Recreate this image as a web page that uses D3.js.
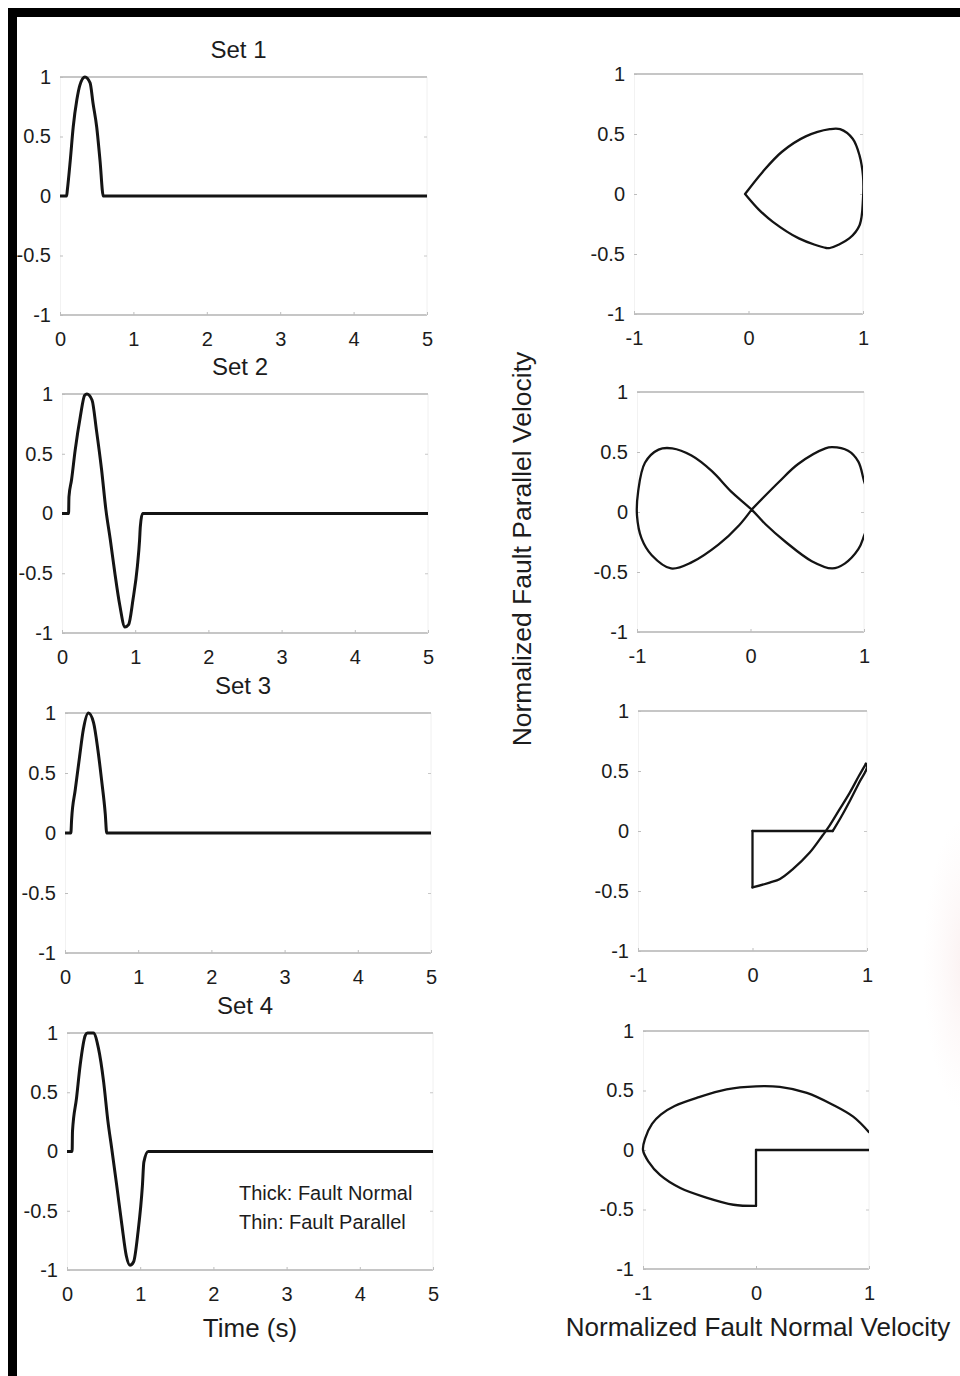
<!DOCTYPE html>
<html>
<head>
<meta charset="utf-8">
<script src="https://cdn.jsdelivr.net/npm/d3@7"></script>
<style>
  html, body { margin: 0; padding: 0; background: #fff; }
  svg { display: block; }
</style>
</head>
<body>
<svg id="fig" width="960" height="1376"></svg>
<script>
// ---------- data ----------
const setTitles = ["Set 1", "Set 2", "Set 3", "Set 4"];
const timeTicks = [0, 1, 2, 3, 4, 5];
const ampTicks = [-1, -0.5, 0, 0.5, 1];
const hodoXTicks = [-1, 0, 1];
const hodoYTicks = [-1, -0.5, 0, 0.5, 1];
const legendLines = ["Thick: Fault Normal", "Thin: Fault Parallel"];
const timeLabel = "Time (s)";
const hodoXLabel = "Normalized Fault Normal Velocity";
const hodoYLabel = "Normalized Fault Parallel Velocity";

// fault-normal velocity time histories (time in s, normalized velocity)
const set1Time   = [0, 0.09, 0.1, 0.14, 0.18, 0.23, 0.27, 0.34, 0.41, 0.45, 0.5, 0.545, 0.59, 5];
const set1Normal = [0, 0, 0.05, 0.30, 0.58, 0.81, 0.93, 1.0, 0.95, 0.78, 0.58, 0.30, 0, 0];

const set2Time   = [0, 0.09, 0.095, 0.13, 0.18, 0.25, 0.31, 0.34, 0.41, 0.47, 0.54, 0.6, 0.66, 0.72, 0.79, 0.86, 0.91, 0.97, 1.03, 1.06, 1.07, 1.1, 5];
const set2Normal = [0, 0, 0.14, 0.28, 0.53, 0.81, 0.99, 1.0, 0.95, 0.70, 0.37, 0.03, -0.22, -0.49, -0.77, -0.95, -0.93, -0.72, -0.44, -0.22, -0.11, 0, 0];

const set3Time   = [0, 0.08, 0.09, 0.14, 0.2, 0.25, 0.32, 0.39, 0.45, 0.5, 0.55, 0.57, 5];
const set3Normal = [0, 0, 0.11, 0.36, 0.64, 0.86, 1.0, 0.92, 0.69, 0.44, 0.16, 0, 0];

const set4Time   = [0, 0.07, 0.075, 0.13, 0.18, 0.25, 0.28, 0.36, 0.43, 0.5, 0.56, 0.61, 0.68, 0.75, 0.81, 0.86, 0.91, 0.97, 1.03, 1.05, 1.11, 5];
const set4Normal = [0, 0, 0.17, 0.45, 0.73, 0.98, 1.0, 1.0, 0.87, 0.59, 0.25, 0.03, -0.29, -0.62, -0.88, -0.96, -0.93, -0.68, -0.29, -0.09, 0, 0];

// hodographs: fault-normal (x) against fault-parallel (y)
const set1HodoNormal   = [-0.03, 0.12, 0.29, 0.50, 0.71, 0.80, 0.91, 0.97, 1.0, 1.0, 0.97, 0.88, 0.71, 0.68, 0.44, 0.21, 0.09, -0.03];
const set1HodoParallel = [0, 0.18, 0.35, 0.48, 0.54, 0.54, 0.46, 0.32, 0.15, -0.04, -0.26, -0.37, -0.45, -0.45, -0.37, -0.23, -0.13, 0];

const set2HodoNormal   = [0.01, 0.25, 0.42, 0.66, 0.72, 0.86, 0.95, 1.0, 1.05, 1.05, 1.0, 0.95, 0.83, 0.72, 0.54, 0.31, 0.13, 0.01,
                          -0.17, -0.34, -0.52, -0.69, -0.81, -0.93, -0.99, -1.0, -0.96, -0.87, -0.70, -0.52, -0.28, -0.10, 0.01];
const set2HodoParallel = [0.02, 0.25, 0.40, 0.53, 0.54, 0.51, 0.42, 0.26, 0.10, -0.05, -0.20, -0.31, -0.43, -0.47, -0.41, -0.25, -0.10, 0.02,
                          0.17, 0.34, 0.47, 0.53, 0.52, 0.41, 0.17, -0.03, -0.22, -0.36, -0.47, -0.42, -0.27, -0.11, 0.02];

const set3HodoNormal   = [0, 0, 0.15, 0.24, 0.35, 0.50, 0.61, 0.67, 0.76, 0.85, 0.93, 0.99, 1.0, 0.93, 0.85, 0.77, 0.72, 0.70, 0];
const set3HodoParallel = [0, -0.47, -0.43, -0.40, -0.32, -0.18, -0.04, 0.04, 0.18, 0.32, 0.46, 0.56, 0.53, 0.40, 0.25, 0.11, 0.03, 0, 0];

const set4HodoNormal   = [1.0, 0, 0, -0.20, -0.44, -0.67, -0.85, -0.95, -1.0, -0.98, -0.92, -0.84, -0.72, -0.52, -0.26, 0, 0.21, 0.45, 0.68, 0.86, 1.0];
const set4HodoParallel = [0, 0, -0.47, -0.46, -0.40, -0.32, -0.21, -0.10, 0, 0.10, 0.22, 0.30, 0.37, 0.44, 0.51, 0.535, 0.53, 0.48, 0.38, 0.28, 0.15];

const timeSeries = [
  [set1Time, set1Normal],
  [set2Time, set2Normal],
  [set3Time, set3Normal],
  [set4Time, set4Normal]
];
const hodographs = [
  [set1HodoNormal, set1HodoParallel],
  [set2HodoNormal, set2HodoParallel],
  [set3HodoNormal, set3HodoParallel],
  [set4HodoNormal, set4HodoParallel]
];

// ---------- layout ----------
const FONT = "'Liberation Sans', Arial, Helvetica, sans-serif";
const INK = "#1c1c1c";
const leftFrames = [
  { left: 60, right: 427, top: 77,   bottom: 315 },
  { left: 62, right: 428, top: 394,  bottom: 633 },
  { left: 65, right: 431, top: 713,  bottom: 953 },
  { left: 67, right: 433, top: 1033, bottom: 1270 }
];
const rightFrames = [
  { left: 634, right: 863, top: 74,   bottom: 314 },
  { left: 637, right: 864, top: 392,  bottom: 632 },
  { left: 638, right: 867, top: 711,  bottom: 951 },
  { left: 643, right: 869, top: 1031, bottom: 1269 }
];

const svg = d3.select("#fig");
const defs = svg.append("defs");

svg.append("rect").attr("width", 960).attr("height", 1376).attr("fill", "#ffffff");

// faint pink tint on the right margin of the page
const tint = defs.append("radialGradient").attr("id", "pageTint");
tint.append("stop").attr("offset", "0%").attr("stop-color", "#efcccc").attr("stop-opacity", 0.3);
tint.append("stop").attr("offset", "100%").attr("stop-color", "#f6e0e0").attr("stop-opacity", 0);
svg.append("ellipse").attr("cx", 968).attr("cy", 965).attr("rx", 45).attr("ry", 150)
  .attr("fill", "url(#pageTint)");

// boxed axes in the style of the source plots: faint top/bottom edges, light inward ticks
function drawFrame(g, x, y, xTicks, yTicks) {
  const [xl, xr] = x.range();
  const [yb, yt] = y.range();

  g.append("line").attr("x1", xl).attr("x2", xr).attr("y1", yt).attr("y2", yt)
    .attr("stroke", "#8d8d8d").attr("stroke-width", 1);
  g.append("line").attr("x1", xl).attr("x2", xr).attr("y1", yb).attr("y2", yb)
    .attr("stroke", "#8d8d8d").attr("stroke-width", 1);
  g.append("line").attr("x1", xr).attr("x2", xr).attr("y1", yt).attr("y2", yb)
    .attr("stroke", "#f0f0f0").attr("stroke-width", 1);

  const ya = g.append("g")
    .attr("transform", `translate(${xl},0)`)
    .call(d3.axisLeft(y).tickValues(yTicks).tickSize(-3).tickPadding(9).tickFormat(d => String(d)));
  ya.attr("font-family", FONT).attr("font-size", 20);
  ya.select(".domain").attr("stroke", "#f2f2f2");
  ya.selectAll(".tick line").attr("stroke", "#bdbdbd");
  ya.selectAll(".tick text").attr("fill", INK);

  const yr = g.append("g")
    .attr("transform", `translate(${xr},0)`)
    .call(d3.axisRight(y).tickValues(yTicks).tickSize(-3).tickFormat(""));
  yr.select(".domain").remove();
  yr.selectAll(".tick line").attr("stroke", "#c8c8c8");

  const xa = g.append("g")
    .attr("transform", `translate(0,${yb})`)
    .call(d3.axisBottom(x).tickValues(xTicks).tickSize(-3).tickPadding(17).tickFormat(d => String(d)));
  xa.attr("font-family", FONT).attr("font-size", 20);
  xa.select(".domain").remove();
  xa.selectAll(".tick line").attr("stroke", "#bdbdbd");
  xa.selectAll(".tick text").attr("fill", INK);
}

// split a pixel polyline at sharp corners so each smooth run can be splined on its own
function splitAtCorners(pts, maxTurnDeg) {
  const runs = [];
  let cur = [pts[0]];
  for (let k = 1; k < pts.length; k++) {
    cur.push(pts[k]);
    if (k < pts.length - 1) {
      const a = pts[k - 1], b = pts[k], c = pts[k + 1];
      const a1 = Math.atan2(b[1] - a[1], b[0] - a[0]);
      const a2 = Math.atan2(c[1] - b[1], c[0] - b[0]);
      let turn = Math.abs(a2 - a1) * 180 / Math.PI;
      if (turn > 180) turn = 360 - turn;
      if (turn > maxTurnDeg) { runs.push(cur); cur = [pts[k]]; }
    }
  }
  runs.push(cur);
  return runs;
}

// ---------- time histories (left column) ----------
timeSeries.forEach(([t, v], i) => {
  const f = leftFrames[i];
  const x = d3.scaleLinear().domain([0, 5]).range([f.left, f.right]);
  const y = d3.scaleLinear().domain([-1, 1]).range([f.bottom, f.top]);
  const g = svg.append("g");

  drawFrame(g, x, y, timeTicks, ampTicks);

  g.append("text")
    .attr("x", (f.left + f.right) / 2 - 5)
    .attr("y", f.top - 28 + 8.5)
    .attr("text-anchor", "middle")
    .attr("font-family", FONT).attr("font-size", 24).attr("fill", INK)
    .text(setTitles[i]);

  const line = d3.line().x(d => x(d[0])).y(d => y(d[1])).curve(d3.curveMonotoneX);
  g.append("path")
    .datum(d3.zip(t, v))
    .attr("d", line)
    .attr("fill", "none")
    .attr("stroke", "#141414")
    .attr("stroke-width", 3)
    .attr("stroke-linejoin", "round")
    .attr("stroke-linecap", "butt");
});

// ---------- hodographs (right column) ----------
hodographs.forEach(([fn, fp], i) => {
  const f = rightFrames[i];
  const x = d3.scaleLinear().domain([-1, 1]).range([f.left, f.right]);
  const y = d3.scaleLinear().domain([-1, 1]).range([f.bottom, f.top]);
  const g = svg.append("g");

  drawFrame(g, x, y, hodoXTicks, hodoYTicks);

  const clipId = `hodoClip${i}`;
  defs.append("clipPath").attr("id", clipId)
    .append("rect")
    .attr("x", f.left - 12).attr("y", f.top - 6)
    .attr("width", f.right - f.left + 12).attr("height", f.bottom - f.top + 12);

  const pix = d3.zip(fn, fp).map(d => [x(d[0]), y(d[1])]);
  const runs = splitAtCorners(pix, 55);
  const spline = d3.line().curve(d3.curveCatmullRom.alpha(0.5));
  const hg = g.append("g").attr("clip-path", `url(#${clipId})`);
  hg.selectAll("path")
    .data(runs)
    .join("path")
    .attr("d", spline)
    .attr("fill", "none")
    .attr("stroke", "#141414")
    .attr("stroke-width", 2.3)
    .attr("stroke-linejoin", "round")
    .attr("stroke-linecap", "round");
});

// ---------- labels ----------
const lf = leftFrames[3];
legendLines.forEach((s, k) => {
  svg.append("text")
    .attr("x", 239).attr("y", 1193 + 7 + k * 29)
    .attr("font-family", FONT).attr("font-size", 20).attr("fill", INK)
    .text(s);
});

svg.append("text")
  .attr("x", (lf.left + lf.right) / 2).attr("y", 1337)
  .attr("text-anchor", "middle")
  .attr("font-family", FONT).attr("font-size", 26).attr("fill", INK)
  .text(timeLabel);

svg.append("text")
  .attr("x", 758).attr("y", 1336)
  .attr("text-anchor", "middle")
  .attr("font-family", FONT).attr("font-size", 26).attr("fill", INK)
  .text(hodoXLabel);

svg.append("text")
  .attr("transform", "translate(531,549) rotate(-90)")
  .attr("text-anchor", "middle")
  .attr("font-family", FONT).attr("font-size", 26.5).attr("fill", INK)
  .text(hodoYLabel);

// ---------- heavy black page edge along the top and left ----------
svg.append("rect").attr("x", 8).attr("y", 8).attr("width", 952).attr("height", 9).attr("fill", "#000");
svg.append("rect").attr("x", 8).attr("y", 8).attr("width", 9).attr("height", 1368).attr("fill", "#000");
</script>
</body>
</html>
